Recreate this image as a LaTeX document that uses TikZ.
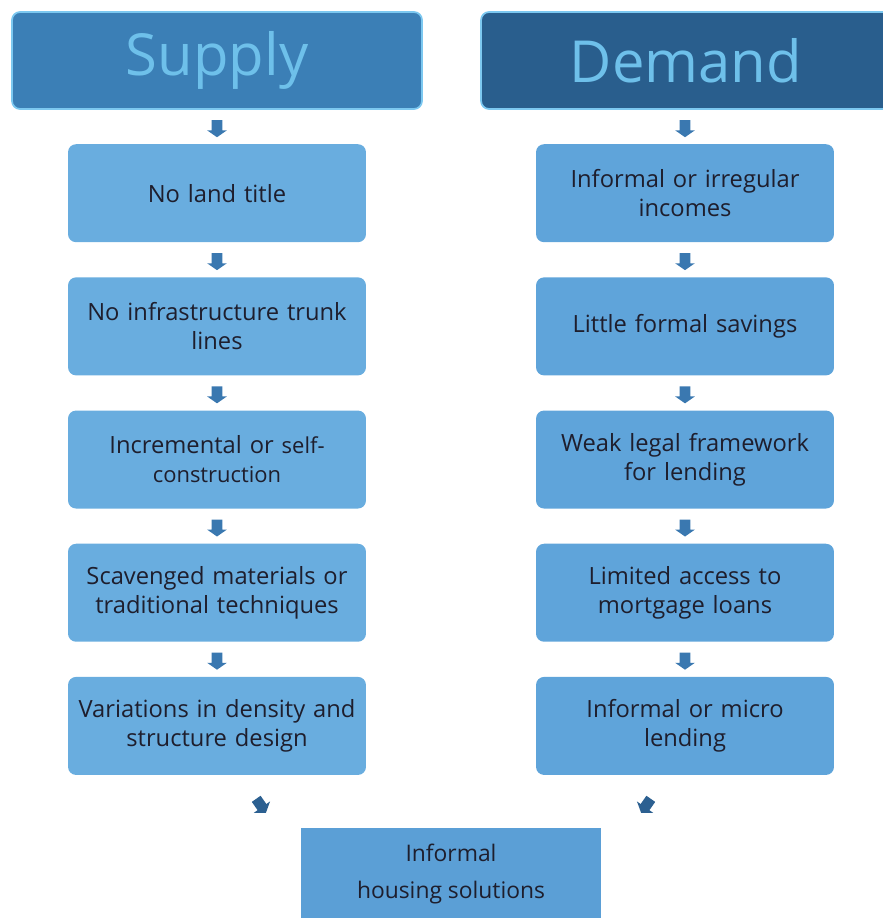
\documentclass[tikz,border=0pt]{standalone}
\usepackage{fontspec}
\setmainfont{Open Sans}
\usetikzlibrary{positioning, calc, shapes.arrows}
\definecolor{supplyblue}{RGB}{59,127,182}
\definecolor{demandblue}{RGB}{41,94,141}
\definecolor{titleblue}{RGB}{110,192,234}
\definecolor{edgeblue}{RGB}{124,200,240}
\definecolor{boxblue}{RGB}{105,173,223}
\definecolor{boxblueb}{RGB}{95,164,218}
\definecolor{resultblue}{RGB}{91,159,214}
\definecolor{arrowblue}{RGB}{58,120,176}
\definecolor{arrowdark}{RGB}{44,96,145}
\definecolor{textdark}{RGB}{30,30,45}

\tikzset{
  header/.style={draw=edgeblue, line width=1pt, rounded corners=0.16cm, minimum width=8.2cm, minimum height=1.94cm, text=titleblue, font=\fontsize{33}{40}\selectfont},
  stepbox/.style={rounded corners=0.16cm, minimum width=5.96cm, minimum height=1.96cm, text width=5.7cm, align=center, text=textdark, font=\fontsize{13.5}{16.5}\selectfont},
  downarrow/.style={single arrow, fill=arrowblue, inner sep=0.1cm, single arrow head extend=0.09cm, single arrow tip angle=110, minimum height=0.34cm, shape border rotate=270}
}

\begin{document}
\begin{tikzpicture}[x=0.02cm, y=-0.02cm, node distance=0.69cm]
    \useasboundingbox (0,0) rectangle (882,918);

    % Headers
    \node[header, fill=supplyblue] (supply) at (217,60.5) {Supply};
    \node[header, fill=demandblue] (demand) at (686,60.5) {Demand};

    % Supply column
    \node[stepbox, fill=boxblue, below=0.68cm of supply] (sup1) {No land title};
    \node[stepbox, fill=boxblue, below=of sup1] (sup2) {No infrastructure trunk\\lines};
    \node[stepbox, fill=boxblue, below=of sup2] (sup3) {Incremental or {\fontsize{12.5}{16.5}\selectfont self-}\\{\fontsize{12.5}{16.5}\selectfont construction}};
    \node[stepbox, fill=boxblue, below=of sup3] (sup4) {Scavenged materials or\\traditional techniques};
    \node[stepbox, fill=boxblue, below=of sup4] (sup5) {Variations in density and\\structure design};

    % Demand column
    \node[stepbox, fill=boxblueb, below=0.68cm of demand, xshift=-0.02cm] (dem1) {Informal or irregular\\incomes};
    \node[stepbox, fill=boxblueb, below=of dem1] (dem2) {Little formal savings};
    \node[stepbox, fill=boxblueb, below=of dem2] (dem3) {Weak legal framework\\for lending};
    \node[stepbox, fill=boxblueb, below=of dem3] (dem4) {Limited access to\\mortgage loans};
    \node[stepbox, fill=boxblueb, below=of dem4] (dem5) {Informal or micro\\lending};

    % Result
    \node[fill=resultblue, anchor=north, minimum width=6.02cm, minimum height=1.84cm, align=center, text=textdark, font=\fontsize{13}{21}\selectfont] (info) at ($(sup5.south)!0.5!(dem5.south)+(0,-1.04cm)$) {Informal\\housing solutions};

    % Down arrows
    \path (supply) -- node[downarrow] {} (sup1);
    \path (demand.south -| dem1.north) -- node[downarrow] {} (dem1);
    \foreach \a/\b in {sup1/sup2, sup2/sup3, sup3/sup4, sup4/sup5, dem1/dem2, dem2/dem3, dem3/dem4, dem4/dem5}
        \path (\a) -- node[downarrow] {} (\b);

    % Arrows into result
    \node[downarrow, fill=arrowdark, rotate=35] (lin) at ($(sup5.south)+(0.86cm,-0.58cm)$) {};
    \node[downarrow, fill=arrowdark, rotate=-35] (rin) at ($(dem5.south)+(-0.76cm,-0.58cm)$) {};
\end{tikzpicture}
\end{document}
